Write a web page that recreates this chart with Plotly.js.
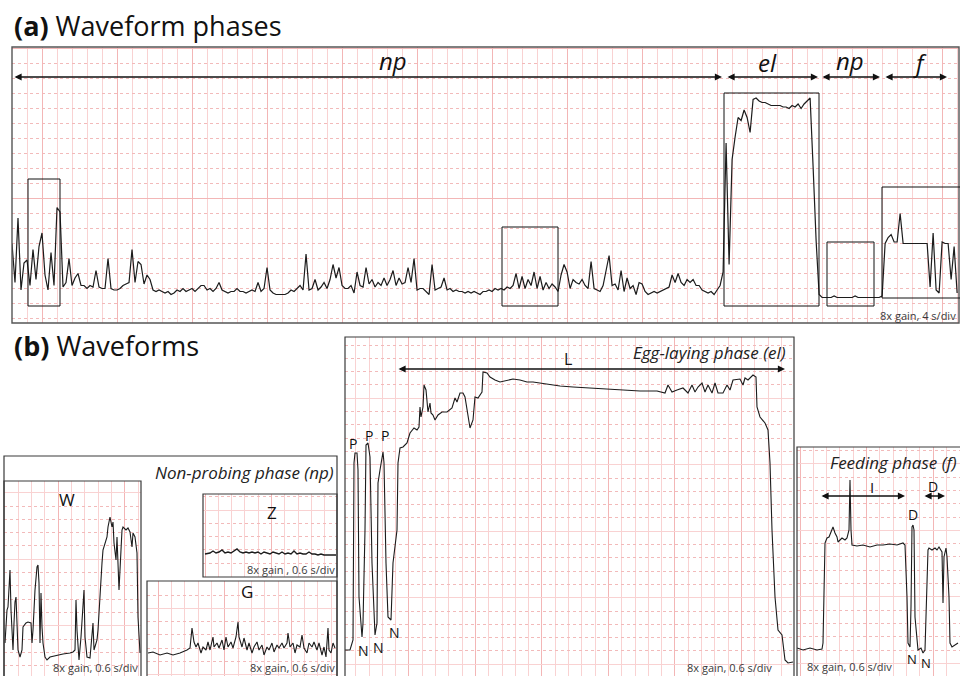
<!DOCTYPE html>
<html><head><meta charset="utf-8">
<script src="https://cdn.plot.ly/plotly-3.0.1.min.js"></script>
<style>html,body{margin:0;padding:0;background:#fff}#chart{width:960px;height:676px}</style>
</head><body><div id="chart"></div>
<script>
// ---------- DATA ----------
// (a) overview recording: one reading every 0.8 s (4 s/div), amplitude in tenths of a division
const overviewStep = 0.8;
const overviewAmp = [
53,27,70,22,40,42,25,49,29,51, 60,32,22,47,25,77,74,24,27,43, 25,30,33,25,25,23,25,24,35,24,
23,23,43,23,22,22,23,25,26,27, 49,27,41,39,26,32,29,22,21,22, 21,20,21,19,20,22,21,23,21,22,
23,21,23,25,25,22,23,21,23,27, 22,21,20,21,21,23,21,21,20,21, 22,21,27,21,23,37,22,20,19,19,
19,19,20,22,21,23,25,22,46,22, 23,29,22,24,27,23,29,39,30,37, 25,23,23,25,20,34,25,24,37,26,
29,24,27,25,30,25,29,35,25,30, 26,27,37,27,43,22,23,23,21,19, 39,22,23,24,30,22,23,21,22,21,
21,20,21,20,21,20,19,21,21,22, 21,23,22,23,22,24,23,25,33,23, 31,23,29,25,34,23,31,22,27,23,
26,24,21,32,39,34,23,29,27,26, 29,25,23,41,23,22,21,25,35,45, 25,26,22,35,21,30,23,25,19,27,
26,21,19,20,21,20,21,22,23,24, 32,27,33,27,25,29,27,29,25,25, 22,21,20,21,19,22,25,34,120,39,
109,124,137,135,142,137,127,149,150,148, 147,147,146,145,145,145,145,144,144,143,
145,144,146,143,146,148,150,104,55,19, 17,17,17,17,18,17,17,17,17,17, 17,18,17,17,17,17,17,17,17,17,
18,53,57,59,54,54,73,53,53,53, 53,53,53,53,53,53,24,60,22,20, 54,53,53,29,51,20];

// (b) waveform close-ups (time and amplitude in recorder units)
const wTime = [1,3,4,6,7,9,10,11,12,13,14,16,18,19,22,24,27,28,29,31,33,34,35,36,37,38,39,41,43,46,53,59,66,69,71,72,73,75,77,79,80,81,83,86,88,89,90,93,94,96,98,99,101,103,104,106,108,109,110,112,113,115,117,118,119,122,124,126,128,129,131,133,134,136];
const wAmp  = [33,66,69,106,66,26,53,74,79,46,26,19,26,49,53,54,53,33,46,86,109,111,93,33,83,49,33,19,16,19,21,22,23,24,26,76,46,16,39,79,86,39,19,18,49,53,26,36,46,86,113,126,133,139,149,159,149,154,133,116,139,86,126,146,149,146,148,144,129,143,139,123,59,23];

const zTime = [2,7,10,13,16,19,22,25,28,31,34,37,40,43,46,49,52,55,58,61,64,67,70,73,76,79,82,85,88,91,94,97,100,103,106,109,112,115,118,121,127,133];
const zAmp  = [23,24,26,24,25,27,24,25,24,26,28,25,24,25,24,25,24,25,23,25,24,23,25,24,23,25,23,24,23,26,23,24,23,23,25,23,23,22,23,22,22,22];

const gTime = [1,6,13,20,26,33,40,43,45,47,49,51,54,56,59,61,63,66,67,70,72,75,77,79,81,84,86,89,91,92,95,97,100,102,105,107,110,112,115,117,120,122,125,127,130,132,135,137,140,141,143,146,148,150,153,155,157,160,162,165,167,170,172,175,177,179,181,182,184,186,188];
const gAmp  = [23,24,21,23,21,23,26,28,48,34,29,33,23,29,26,34,26,39,29,33,28,36,26,39,29,34,28,39,54,39,29,38,26,33,23,29,34,26,31,21,29,26,33,24,31,28,33,28,33,43,29,33,23,31,29,41,28,23,33,29,34,26,33,21,29,19,48,26,23,33,28];

const eggTime = [0,5,8,9,10,12,13,14,17,18,20,21,23,25,27,30,32,33,35,37,38,39,41,43,46,48,50,52,53,55,58,62,65,67,69,72,74,75,76,78,79,81,82,83,85,86,88,90,93,97,102,107,110,112,115,118,120,123,125,128,130,133,137,138,142,145,150,155,162,168,175,182,188,195,205,215,228,245,262,278,295,312,320,323,327,332,338,343,347,350,353,357,360,363,367,370,373,378,382,385,388,395,398,400,403,408,411,412,415,420,423,425,427,430,433,437,440,443,448];
const eggAmp  = [26,26,36,213,223,223,206,79,39,53,146,231,233,219,113,41,53,193,206,219,224,213,113,59,56,113,129,146,213,228,229,233,243,246,248,246,249,269,259,269,291,286,269,264,273,263,261,256,261,264,264,268,278,274,283,283,279,259,248,256,279,278,284,304,303,299,296,294,296,297,296,294,294,293,291,290,289,288,287,286,285,285,283,291,284,286,288,283,291,284,289,293,284,291,283,293,283,283,291,286,296,297,291,298,296,301,299,269,259,253,246,213,146,79,46,41,16,13,14];

const feedTime = [0,6,13,20,25,26,28,30,32,35,36,38,40,41,45,48,50,52,53,54,55,60,66,73,80,86,93,100,106,108,110,111,113,114,115,116,117,118,120,121,124,126,128,130,131,132,135,138,140,142,145,146,147,149,150,152,153,155,158,161];
const feedAmp  = [28,26,28,26,27,33,133,138,139,148,149,143,139,134,138,136,138,146,196,146,131,130,131,129,131,131,132,131,133,131,79,33,29,69,149,151,146,59,33,26,28,23,26,99,126,128,126,128,126,129,124,73,119,128,119,79,33,29,31,33];

// ---------- LAYOUT HELPERS ----------
const W = 960, H = 676;
const px = v => v / W;
const py = v => 1 - v / H;
const clamp = v => Math.max(0, Math.min(1, v));

const MINOR = '#f9d2d2', MAJOR = '#f3b6b6', DOTC = '#f2baba';
function xAxis(x0, x1, range, tick0, dtick, mdtick, mtick0) {
  return {domain:[clamp(px(x0)), clamp(px(x1))], range:range, showticklabels:false, ticks:'', zeroline:false,
    showgrid:true, gridcolor:MAJOR, gridwidth:1, tick0:tick0, dtick:dtick, fixedrange:true, showline:false,
    minor:{showgrid:true, dtick:mdtick, tick0:mtick0, gridcolor:MINOR, gridwidth:1, griddash:'solid'}};
}
function yAxis(y0, y1, range, tick0, dtick, mdtick, mtick0, anchor, majorColor) {
  return {domain:[clamp(py(y1)), clamp(py(y0))], range:range, showticklabels:false, ticks:'', zeroline:false,
    showgrid:true, gridcolor:majorColor || MAJOR, gridwidth:1, tick0:tick0, dtick:dtick, fixedrange:true, showline:false, anchor:anchor,
    minor:{showgrid:true, dtick:mdtick, tick0:mtick0, gridcolor:DOTC, gridwidth:1, griddash:'dot'}};
}
const G = 13.3;
const layout = {
  width:W, height:H, margin:{l:0,r:0,t:0,b:0}, paper_bgcolor:'#fff', plot_bgcolor:'#fff', showlegend:false,
  xaxis:  xAxis(12, 959, [0, 252.5], 8.08, 20, 4, 0.08),
  yaxis:  yAxis(47, 323, [0, 184], 82.7, 100, 10, 2.7, 'x'),
  xaxis2: xAxis(4, 141, [0, 137], 1.0 + 4*G, 5*G, G, 1.0),
  yaxis2: yAxis(481, 676, [0, 195], 10.4 + 13*G, 5*G, G, 10.4, 'x2', MINOR),
  xaxis3: xAxis(203, 337, [0, 134], 2.0 + 5*G, 5*G, G, 2.0),
  yaxis3: yAxis(494, 577, [0, 83], 0.5 + 5*G, 5*G, G, 0.5, 'x3', MINOR),
  xaxis4: xAxis(147, 337, [0, 190], 11.3 + 5*G, 5*G, G, 11.3),
  yaxis4: yAxis(581, 676, [0, 95], 1.2 + 5*G, 5*G, G, 1.2, 'x4', MINOR),
  xaxis5: xAxis(345, 794, [0, 449], 10.7 + 4*G, 5*G, G, 10.7),
  yaxis5: yAxis(337, 676, [0, 339], 11.8 + 20*G, 5*G, G, 11.8, 'x5', MINOR),
  xaxis6: xAxis(797, 960, [0, 163], 3 + 5*G, 5*G, G, 3),
  yaxis6: yAxis(447, 676, [0, 229], 12.7 + 10*G, 5*G, G, 12.7, 'x6', MINOR),
};
['xaxis','xaxis2','xaxis3','xaxis4','xaxis5','xaxis6'].forEach((k,i)=>{ layout[k].anchor = i ? 'y'+(i+1) : 'y'; });

// Frames
function rect(x0, y0, x1, y1, w, c) {
  return {type:'rect', xref:'paper', yref:'paper', x0:px(x0), x1:px(x1), y0:py(y1), y1:py(y0),
          line:{color:c || '#3a3a3a', width:w||1}, fillcolor:'rgba(0,0,0,0)', layer:'above'};
}
layout.shapes = [
  rect(12, 47, 959, 323, 1.4, '#555'),
  rect(28, 179, 60, 306, 1, '#111'), rect(502, 227, 558, 306, 1, '#111'), rect(724, 93, 819, 306, 1, '#111'),
  rect(827, 242, 874, 306, 1, '#111'), rect(882, 187, 965, 298, 1, '#111'),
  rect(4, 456, 337, 700, 1.2), rect(4, 481, 141, 700, 1.2), rect(203, 494, 337, 577, 1.2),
  rect(147, 581, 337, 700, 1.2), rect(345, 337, 794, 700, 1.2), rect(797, 447, 965, 700, 1.2)
];

// Text + arrows
const SANS = "'Open Sans', 'Noto Sans', sans-serif";
function txt(t, x, y, size, anchor, color) {
  return {text:t, xref:'paper', yref:'paper', x:px(x), y:py(y), xanchor:anchor||'center', yanchor:'middle',
    showarrow:false, font:{family:SANS, size:size, color:color||'#111'}};
}
function arrow(x0, x1, y) {
  return {text:'', xref:'paper', yref:'paper', x:px(x1), y:py(y), ax:x0 - x1, ay:0, axref:'pixel', ayref:'pixel',
    showarrow:true, arrowside:'end+start', arrowhead:2, arrowsize:1.1, arrowwidth:1.3, arrowcolor:'#111',
    standoff:0, startstandoff:0};
}
const GAIN = '#3a3a3a';
layout.annotations = [
  txt('<b>(a)</b> Waveform phases', 12, 26, 27, 'left'),
  txt('<b>(b)</b> Waveforms', 12, 346, 27, 'left'),
  arrow(13, 722, 77), arrow(726, 818, 77), arrow(821, 880, 77), arrow(884, 947, 77),
  txt('<i>np</i>', 393, 61, 24), txt('<i>el</i>', 767, 63, 24), txt('<i>np</i>', 850, 60, 24), txt('<i>f</i>', 920, 63, 24),
  txt('8x gain, 4 s/div', 958, 315, 11, 'right', GAIN),
  txt('<i>Non-probing phase (np)</i>', 336, 472, 17, 'right', '#222'),
  txt('W', 67, 499, 17), txt('Z', 272, 512, 17), txt('G', 247, 591, 17),
  txt('8x gain, 0.6 s/div', 140, 667, 11, 'right', GAIN),
  txt('8x gain , 0.6 s/div', 337, 569, 11, 'right', GAIN),
  txt('8x gain, 0.6 s/div', 337, 667, 11, 'right', GAIN),
  txt('<i>Egg-laying phase (el)</i>', 788, 352, 17, 'right', '#222'),
  txt('L', 568, 359, 16), arrow(397, 785, 369),
  txt('P', 353, 443, 14), txt('P', 369, 435, 14), txt('P', 385, 435, 14),
  txt('N', 363, 650, 14), txt('N', 378, 647, 14), txt('N', 394, 632, 14),
  txt('8x gain, 0.6 s/div', 774, 667, 11, 'right', GAIN),
  txt('<i>Feeding phase (f)</i>', 959, 462, 17, 'right', '#222'),
  txt('I', 872, 487, 15), arrow(820, 905, 496),
  txt('D', 933, 486, 14), arrow(923, 945, 496),
  txt('D', 913, 514, 14), txt('N', 912, 659, 13), txt('N', 926, 663, 13),
  txt('8x gain, 0.6 s/div', 805, 666, 11, 'left', GAIN)
];

// ---------- TRACES ----------
const LINE = '#1c1c1c';
const tr = (x, y, xa, ya, w) => ({x:x, y:y, xaxis:xa, yaxis:ya, type:'scatter', mode:'lines',
  line:{color:LINE, width:w||1.1}, hoverinfo:'skip'});
const data = [
  tr(overviewAmp.map((_, i) => i * overviewStep), overviewAmp, 'x', 'y', 1.2),
  tr(wTime, wAmp, 'x2', 'y2'),
  tr(zTime, zAmp, 'x3', 'y3', 1.4),
  tr(gTime, gAmp, 'x4', 'y4'),
  tr(eggTime, eggAmp, 'x5', 'y5'),
  tr(feedTime, feedAmp, 'x6', 'y6')
];
Plotly.newPlot('chart', data, layout, {staticPlot:true, displayModeBar:false});
</script>
</body></html>
